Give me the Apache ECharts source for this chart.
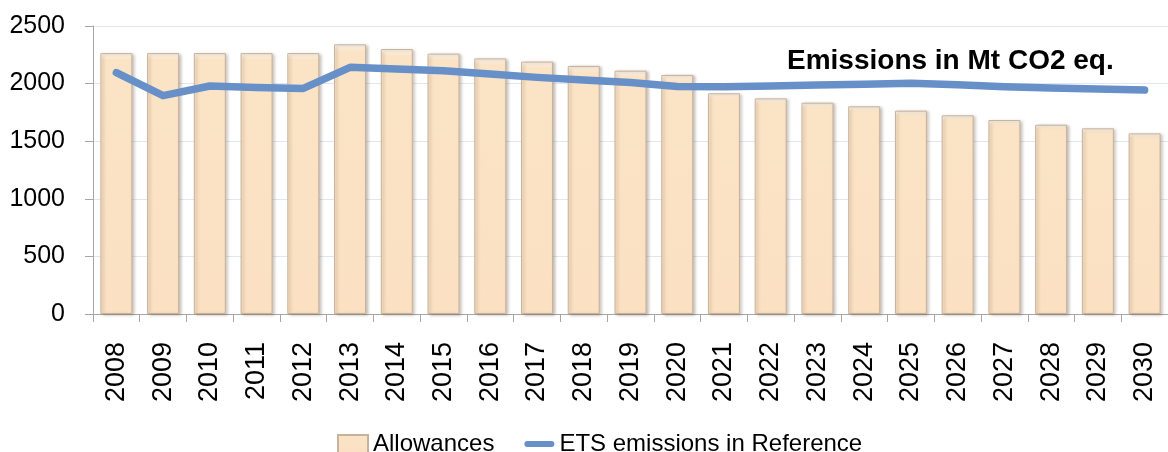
<!DOCTYPE html>
<html>
<head>
<meta charset="utf-8">
<script src="https://cdn.jsdelivr.net/npm/echarts@6/dist/echarts.min.js"></script>
<style>
  html, body { margin: 0; padding: 0; background: #fff; }
  #main { width: 1168px; height: 452px; }
</style>
</head>
<body>
<div id="main"></div>
<script>
// data
var years = ["2008", "2009", "2010", "2011", "2012", "2013", "2014", "2015", "2016", "2017", "2018", "2019",
  "2020", "2021", "2022", "2023", "2024", "2025", "2026", "2027", "2028", "2029", "2030"];
var allowances = [2265, 2265, 2265, 2265, 2265, 2341, 2300, 2260, 2219, 2191, 2153, 2112,
  2075, 1916, 1872, 1834, 1803, 1765, 1725, 1684, 1643, 1612, 1568];
var etsEmissions = [2095, 1895, 1979, 1967, 1958, 2141, 2127, 2112, 2083, 2054, 2031, 2009,
  1974, 1972, 1980, 1988, 1995, 2002, 1990, 1972, 1962, 1953, 1944];
var yTicks = [0, 500, 1000, 1500, 2000, 2500];

var font = "'Liberation Sans', Arial, sans-serif";
var myChart = echarts.init(document.getElementById("main"));

var option = {
  animation: false,
  backgroundColor: "#ffffff",
  title: {
    text: "Emissions in Mt CO2 eq.",
    left: 782,
    top: 42,
    textStyle: { fontFamily: font, fontWeight: "bold", fontSize: 28, color: "#000" },
  },
  legend: {
    bottom: -9,
    left: 332,
    itemGap: 30,
    itemWidth: 30,
    itemHeight: 18,
    textStyle: { fontFamily: font, fontSize: 24, color: "#000" },
    data: [
      { name: "Allowances", icon: "rect" },
      {
        name: "ETS emissions in Reference",
        // thick rounded line, like the reference legend
        icon: "path://M4,0 H36 A4,4 0 0 1 36,8 H4 A4,4 0 0 1 4,0 Z",
        itemStyle: { color: "#6690c7" },
      },
    ],
  },
  grid: {
    left: 93,
    top: 26,
    width: 1084,
    height: 288,
  },
  xAxis: {
    type: "category",
    data: years,
    boundaryGap: true,
    axisLine: { lineStyle: { color: "#a6a6a6", width: 1 } },
    axisTick: { show: true, length: 8, lineStyle: { color: "#a6a6a6" } },
    axisLabel: {
      rotate: 90,
      margin: 28,
      fontFamily: font,
      fontSize: 27,
      color: "#000",
    },
  },
  yAxis: {
    type: "value",
    min: yTicks[0],
    max: yTicks[yTicks.length - 1],
    interval: 500,
    axisLine: { show: true, lineStyle: { color: "#a6a6a6", width: 1 } },
    axisTick: { show: true, length: 8, lineStyle: { color: "#a6a6a6" } },
    axisLabel: {
      margin: 28,
      fontFamily: font,
      fontSize: 25,
      color: "#000",
      formatter: function (v) { return String(v); },
    },
    splitLine: { show: true, lineStyle: { color: "#e2e6f0", width: 1 } },
  },
  series: [
    {
      name: "Allowances",
      type: "bar",
      data: allowances,
      barWidth: 32,
      itemStyle: {
        color: {
          type: "linear", x: 0, y: 0, x2: 0, y2: 1,
          colorStops: [
            { offset: 0, color: "#fffbf4" },
            { offset: 0.025, color: "#fbe3c6" },
            { offset: 1, color: "#fbe1c2" },
          ],
        },
        borderColor: "#c7b29c",
        borderWidth: 1,
        shadowColor: "rgba(90, 70, 50, 0.35)",
        shadowBlur: 3,
        shadowOffsetX: 2,
        shadowOffsetY: 1,
      },
    },
    {
      name: "ETS emissions in Reference",
      type: "line",
      data: etsEmissions,
      showSymbol: false,
      symbol: "none",
      z: 5,
      lineStyle: { color: "#6690c7", width: 7.5, cap: "round", join: "round" },
      itemStyle: { color: "#6690c7" },
    },
  ],
};

myChart.setOption(option);
</script>
</body>
</html>
